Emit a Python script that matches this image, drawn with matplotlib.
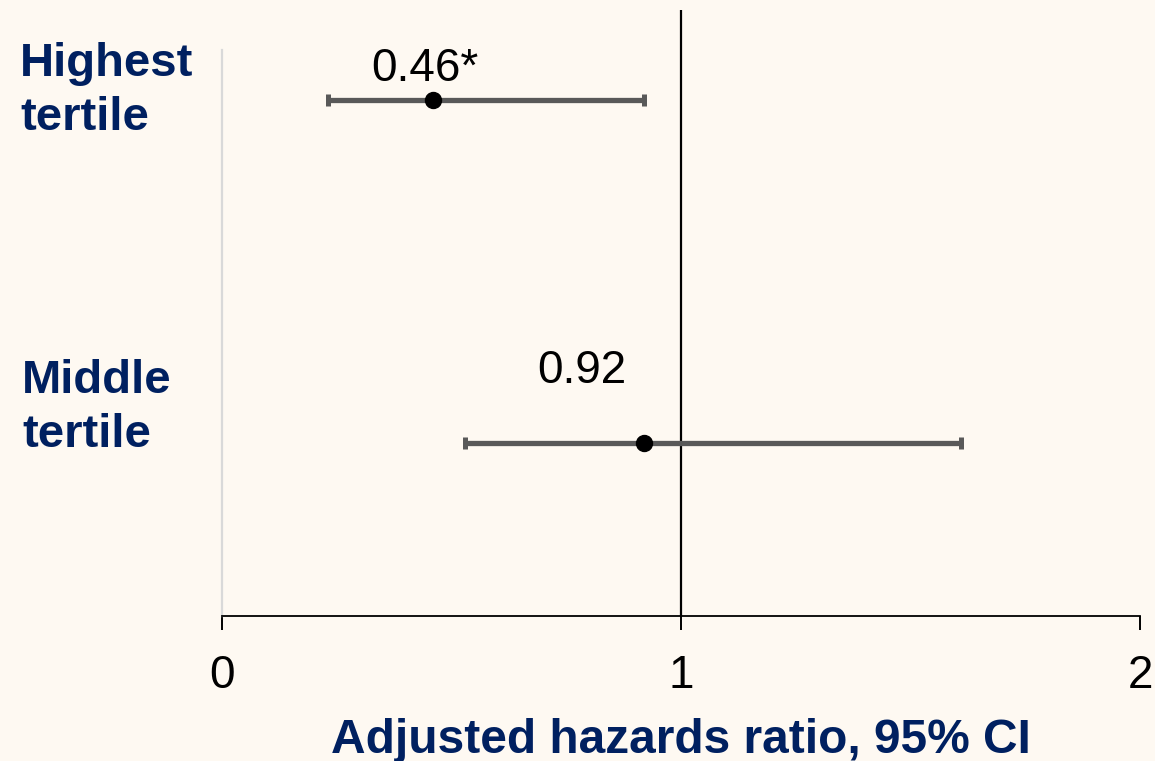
import numpy as np
import matplotlib.pyplot as plt

plt.rcParams['font.family'] = ['Liberation Sans', 'DejaVu Sans']

# data
groups = ["Highest\ntertile", "Middle\ntertile"]
hr = [0.46, 0.92]
ci_low = [0.23, 0.53]
ci_high = [0.92, 1.61]
hr_labels = ["0.46*", "0.92"]
xticks = [0, 1, 2]

navy = "#002060"
bg = "#FEF9F2"

fig = plt.figure(figsize=(11.55, 7.61), dpi=100, facecolor=bg)
ax = fig.add_axes([222/1155, 1 - 616/761, (1140 - 222)/1155, 606/761])
ax.set_facecolor(bg)

ypos = np.array([2, 1])
hr = np.array(hr)
xerr = [hr - np.array(ci_low), np.array(ci_high) - hr]

ax.axvline(1, color="black", lw=1.6, zorder=1)
ax.errorbar(hr, ypos, xerr=xerr, fmt="none", ecolor="#595959", elinewidth=3.8,
            capsize=4, capthick=3.6, zorder=2)
ax.plot(hr, ypos, "o", color="black", ms=11.5, zorder=3)

# value labels above each point
label_offsets = [(-6, 22.5), (-45, 52)]
for x, y, s, off in zip(hr, ypos, hr_labels, label_offsets):
    ax.annotate(s, (x, y), xytext=off, textcoords="offset points",
                ha="center", va="center", fontsize=33, color="black")

ax.set_xlim(0, 2)
ax.set_ylim(0.496, 2.262)
ax.set_xticks(xticks)
ax.set_xticklabels([str(t) for t in xticks], fontsize=33)
ax.set_yticks([])
ax.tick_params(axis="x", length=10, width=1.4, color="black", pad=17)

for s in ["top", "right"]:
    ax.spines[s].set_visible(False)
ax.spines["bottom"].set_color("black")
ax.spines["bottom"].set_linewidth(1.3)
ax.spines["left"].set_color("#D9D9D9")
ax.spines["left"].set_linewidth(1.6)
ax.spines["left"].set_bounds(0.496, 2.146)

ax.set_xlabel("Adjusted hazards ratio, 95% CI", fontsize=34.5, fontweight="bold",
              color=navy, labelpad=15)

# category labels on the left
label_pos = [(20/1155, 1 - 42/761), (22/1155, 1 - 359/761)]
for g, (fx, fy) in zip(groups, label_pos):
    fig.text(fx, fy, g, ha="left", va="top", fontsize=34, fontweight="bold",
             color=navy, linespacing=1.28)

fig.savefig("out.png", dpi=100, facecolor=bg)
